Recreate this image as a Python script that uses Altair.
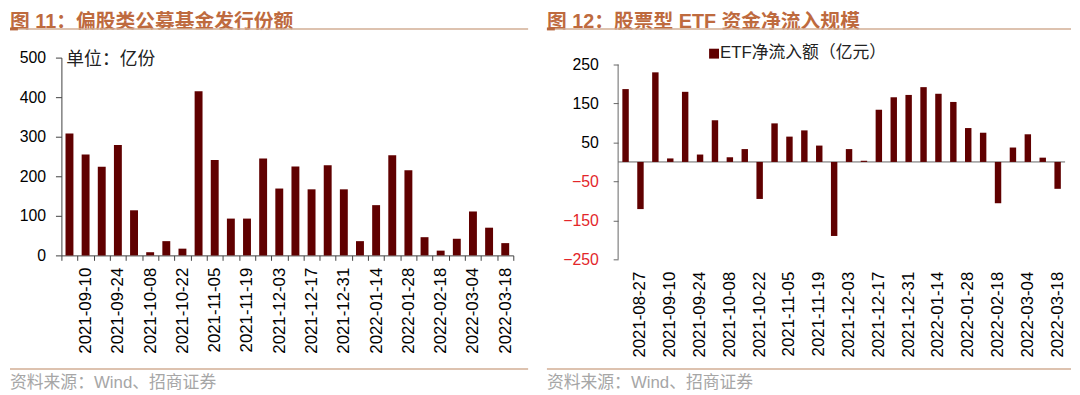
import altair as alt
import pandas as pd

# ---------------- data ----------------
left_dates = [
    "2021-09-03", "2021-09-10", "2021-09-17", "2021-09-24", "2021-09-30",
    "2021-10-08", "2021-10-15", "2021-10-22", "2021-10-29", "2021-11-05",
    "2021-11-12", "2021-11-19", "2021-11-26", "2021-12-03", "2021-12-10",
    "2021-12-17", "2021-12-24", "2021-12-31", "2022-01-07", "2022-01-14",
    "2022-01-21", "2022-01-28", "2022-02-11", "2022-02-18", "2022-02-25",
    "2022-03-04", "2022-03-11", "2022-03-18",
]
left_values = [308, 255, 224, 279, 114, 8, 36, 17, 415, 241,
               93, 93, 245, 169, 225, 167, 228, 167, 36, 127,
               253, 215, 46, 12, 42, 111, 70, 31]
left_tick_labels = [
    "2021-09-10", "2021-09-24", "2021-10-08", "2021-10-22", "2021-11-05",
    "2021-11-19", "2021-12-03", "2021-12-17", "2021-12-31", "2022-01-14",
    "2022-01-28", "2022-02-18", "2022-03-04", "2022-03-18",
]
left_y_ticks = [0, 100, 200, 300, 400, 500]

right_dates = ["2021-08-20", "2021-08-27"] + left_dates
right_values = [187, -121, 230, 9, 180, 19, 107, 12, 33, -95,
                99, 65, 81, 42, -190, 33, 3, 134, 166, 172,
                192, 175, 154, 87, 75, -106, 37, 71, 11, -69]
right_tick_labels = ["2021-08-27"] + left_tick_labels
right_y_ticks = [250, 150, 50, -50, -150, -250]

left_title = "图 11：偏股类公募基金发行份额"
right_title = "图 12：股票型 ETF 资金净流入规模"
left_unit = "单位：亿份"
right_legend = "ETF净流入额（亿元）"
source_text = "资料来源：Wind、招商证券"

# ---------------- style ----------------
BAR = "#600000"
TITLE_C = "#BE6A3E"
LINE_C = "#D2AE94"
LINE_DARK = "#B8663C"
SRC_C = "#A6A6A6"
AX_C = "#404040"
NUM_FONT = "Liberation Sans"
MIX_FONT = "Liberation Sans, Noto Sans CJK SC, sans-serif"

one = alt.Data(values=[{}])


def hline(x1, x2, y, color, width, opacity=1):
    return alt.Chart(one).mark_rule(color=color, strokeWidth=width,
                                    strokeOpacity=opacity).encode(
        x=alt.value(x1), x2=alt.value(x2), y=alt.value(y))


def text(x, y, s, size, color, font=MIX_FONT, weight="normal", baseline="top"):
    return alt.Chart(one).mark_text(
        align="left", baseline=baseline, fontSize=size, color=color,
        font=font, fontWeight=weight).encode(
        x=alt.value(x), y=alt.value(y), text=alt.value(s))


def label_expr(labels):
    arr = "[" + ",".join("'%s'" % s for s in labels) + "]"
    return "indexof(%s, datum.value) >= 0 ? datum.value : ''" % arr


# ---------------- left panel ----------------
LW, LH = 457, 200
ldf = pd.DataFrame({"date": left_dates, "value": left_values})

left_bars = alt.Chart(ldf).mark_bar(size=8, color=BAR).encode(
    x=alt.X("date:N", sort=left_dates,
            scale=alt.Scale(paddingInner=0, paddingOuter=0),
            axis=alt.Axis(title=None, labelAngle=270, labelAlign="right",
                          labelBaseline="middle", labelFontSize=17,
                          labelFont=NUM_FONT, labelColor="#000000",
                          labelPadding=7, labelOverlap=False,
                          labelExpr=label_expr(left_tick_labels),
                          tickBand="extent", tickSize=5, tickColor=AX_C,
                          domainColor=AX_C)),
    y=alt.Y("value:Q", scale=alt.Scale(domain=[0, 500], nice=False),
            axis=alt.Axis(title=None, values=left_y_ticks, tickSize=6,
                          tickColor=AX_C, domainColor=AX_C,
                          labelFontSize=16, labelFont=NUM_FONT,
                          labelColor="#000000", labelPadding=10, grid=False)),
)

left = alt.layer(
    left_bars,
    text(5, 2, left_unit, 18, "#222222", baseline="middle"),
    hline(-52, 472, -48, "#FFFFFF", 0.5, opacity=0),
    text(-52, -46, left_title, 20, TITLE_C, weight="bold"),
    hline(-52, 472, -29, LINE_C, 1.5),
    hline(-52, -44, -29, LINE_DARK, 3),
    hline(-52, 472, 315, LINE_C, 1.5),
    text(-52, 329, source_text, 17, SRC_C, baseline="middle"),
).properties(width=LW, height=LH)

# ---------------- right panel ----------------
RW, RH = 452, 204
rdf = pd.DataFrame({"date": right_dates, "value": right_values})
rdomain = [-250, 267.8]

right_bars = alt.Chart(rdf).mark_bar(size=6.5, color=BAR).encode(
    x=alt.X("date:N", sort=right_dates,
            scale=alt.Scale(paddingInner=0, paddingOuter=0),
            axis=alt.Axis(title=None, labelAngle=270, labelAlign="right",
                          labelBaseline="middle", labelFontSize=17,
                          labelFont=NUM_FONT, labelColor="#000000",
                          labelPadding=12, labelOverlap=False,
                          labelExpr=label_expr(right_tick_labels),
                          ticks=False, domain=False)),
    y=alt.Y("value:Q", scale=alt.Scale(domain=rdomain, nice=False),
            axis=alt.Axis(title=None, values=right_y_ticks, tickSize=5,
                          tickColor="#666666", domain=False,
                          labelFontSize=16, labelFont=NUM_FONT,
                          labelColor={"condition": {"test": "datum.value < 0",
                                                    "value": "#E3262A"},
                                      "value": "#000000"},
                          labelPadding=15, grid=False)),
)

axis_line_df = pd.DataFrame({"lo": [right_y_ticks[-1]], "hi": [right_y_ticks[0]]})
right_axis_line = alt.Chart(axis_line_df).mark_rule(color="#666666", strokeWidth=1).encode(
    x=alt.value(0), y=alt.Y("lo:Q", scale=alt.Scale(domain=rdomain, nice=False)),
    y2="hi:Q")
zero_df = pd.DataFrame({"zero": [0]})
right_zero = alt.Chart(zero_df).mark_rule(color="#666666", strokeWidth=1).encode(
    y=alt.Y("zero:Q", scale=alt.Scale(domain=rdomain, nice=False)))

legend_sq = alt.Chart(one).mark_square(size=100, color=BAR, opacity=1).encode(
    x=alt.value(97), y=alt.value(-4))

right = alt.layer(
    right_zero,
    right_bars,
    right_axis_line,
    legend_sq,
    text(103, -5, right_legend, 17, "#222222", baseline="middle"),
    hline(-72, 458, -48, "#FFFFFF", 0.5, opacity=0),
    text(-72, -46, right_title, 20, TITLE_C, weight="bold"),
    hline(-72, 458, -29, LINE_C, 1.5),
    hline(-72, -64, -29, LINE_DARK, 3),
    hline(-72, 458, 315, LINE_C, 1.5),
    text(-72, 329, source_text, 17, SRC_C, baseline="middle"),
).properties(width=RW, height=RH)

chart = alt.hconcat(left, right, spacing=16).properties(
    padding=0, background="#FFFFFF"
).configure_view(stroke=None).configure_axis(grid=False)

chart.save("out.html", embed_options={"renderer": "svg", "actions": False})
